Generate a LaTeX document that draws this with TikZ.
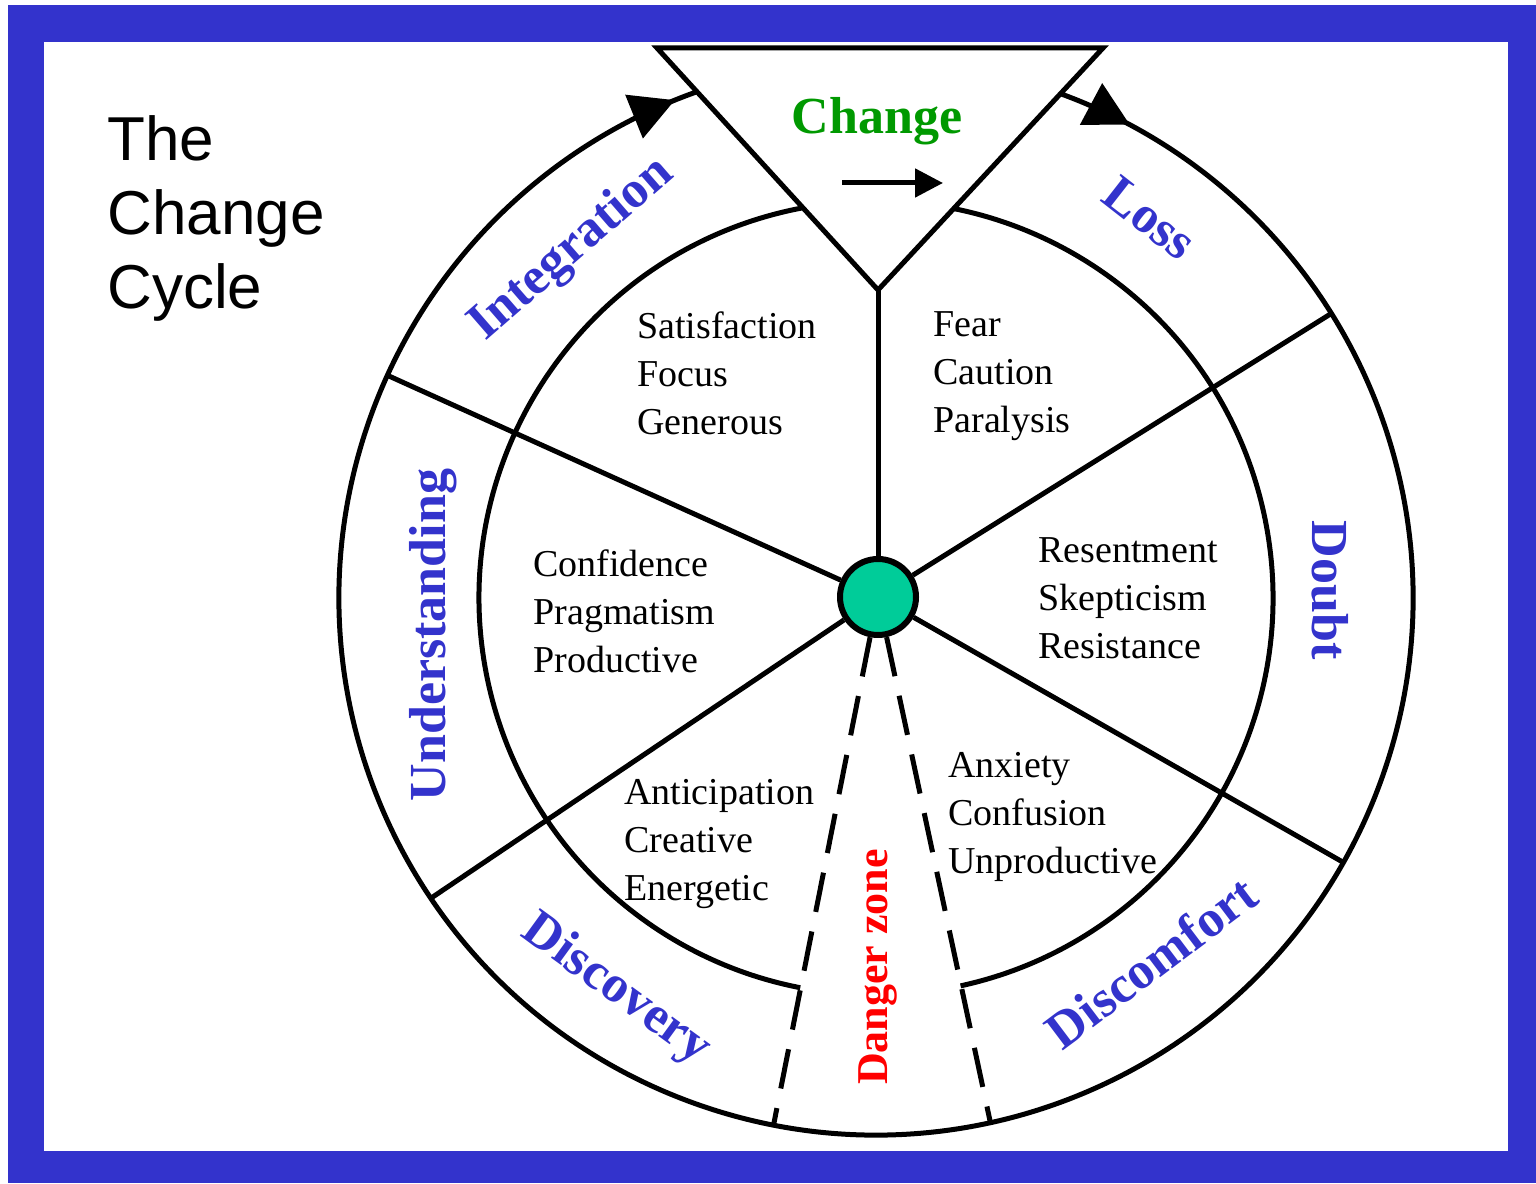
\documentclass[tikz,border=0pt]{standalone}
\usepackage{fontspec}
\setmainfont{Liberation Serif}
\newfontfamily\titlefont{Liberation Sans}
\usetikzlibrary{arrows.meta, calc, decorations.markings}

\definecolor{frameblue}{RGB}{51,51,204}
\definecolor{changegreen}{RGB}{0,153,0}
\definecolor{hubgreen}{RGB}{0,204,153}

\begin{document}
\begin{tikzpicture}[x=0.5pt, y=0.5pt,
  phase/.style={text=frameblue, inner sep=0, font=\bfseries\fontsize{26}{30}\selectfont},
  feelings/.style={align=left, anchor=north west, inner sep=0, font=\fontsize{19}{24}\selectfont},
  ring/.style={line width=2.5pt}]
% Define the sizes of the wheel
\pgfmathsetmacro{\Rout}{537}
\pgfmathsetmacro{\Rin}{397}
\coordinate (C) at (876,585);

% Blue frame
\useasboundingbox (0,0) rectangle (1536,1183);
\fill[frameblue] (8,0) rectangle (1536,1178);
\fill[white] (44,32) rectangle (1508,1141);

% Outer ring, open under the triangle, with the two arrows
\draw[ring, decoration={markings,
    mark=at position 0.025 with {\arrow{Triangle[length=22pt,width=23pt]}},
    mark=at position 0.9925 with {\arrow{Triangle[length=22pt,width=23pt]}}},
  postaction={decorate}]
  ($(C)+(69.8:\Rout)$) arc (69.8:-250.4:\Rout);
% Inner ring, open at the danger zone
\draw[ring] ($(C)+(282.3:\Rin)$) arc (282.3:619:\Rin);

% Hub and spokes
\node[circle, draw, line width=3pt, fill=hubgreen, minimum size=38pt] (hub) at (878,586) {};
\coordinate (apex) at (878,893);
\coordinate (tl) at (657,1135);
\coordinate (tr) at (1103,1135);
\foreach \a/\n in {32/ne, 155.5/nw, 214/sw, -29.5/se}
  \coordinate (\n) at ($(C)+(\a:\Rout)$);
\coordinate (dl) at ($(C)+(259:\Rout)$);
\coordinate (dr) at ($(C)+(282.3:\Rout)$);
\foreach \n in {apex, ne, nw, sw, se}
  \draw[ring] (hub) -- (\n);
\draw[ring, dash pattern=on 20pt off 10pt] (hub) -- (dl);
\draw[ring, dash pattern=on 20pt off 10pt] (hub) -- (dr);

% Change triangle
\draw[ring, fill=white] (tl) -- (tr) -- (apex) -- cycle;
\node[text=changegreen, font=\bfseries\fontsize{26}{30}\selectfont] (change) at (877,1062) {Change};
\coordinate (ca) at (842,1000);
\coordinate (cb) at (943,1000);
\draw[ring, -{Triangle[length=14pt,width=14pt]}] (ca) -- (cb);

% Title
\node[align=left, anchor=north west, inner sep=0, font=\titlefont\fontsize{31}{37}\selectfont]
  (title) at (107,1068) {The\\Change\\Cycle};

% Phases round the ring
\node[phase, rotate=41] (integ) at (572,933) {Integration};
\node[phase, rotate=-38] (loss) at (1150,965) {Loss};
\node[phase, rotate=-90] (doubt) at (1330,593) {Doubt};
\node[phase, rotate=37] (discomf) at (1151,221) {Discomfort};
\node[phase, rotate=-36] (discov) at (616,193) {Discovery};
\node[phase, rotate=90] (underst) at (433,548) {Understanding};
\node[text=red, inner sep=0, rotate=90, font=\bfseries\fontsize{22}{26}\selectfont]
  (danger) at (878,216) {Danger zone};

% Feelings in each sector
\node[feelings] (sat) at (637,872) {Satisfaction\\Focus\\Generous};
\node[feelings] (fear) at (933,872) {Fear\\Caution\\Paralysis};
\node[feelings] (conf) at (533,634) {Confidence\\Pragmatism\\Productive};
\node[feelings] (res) at (1038,646) {Resentment\\Skepticism\\Resistance};
\node[feelings] (ant) at (624,404) {Anticipation\\Creative\\Energetic};
\node[feelings] (anx) at (948,431) {Anxiety\\Confusion\\Unproductive};

\end{tikzpicture}
\end{document}
